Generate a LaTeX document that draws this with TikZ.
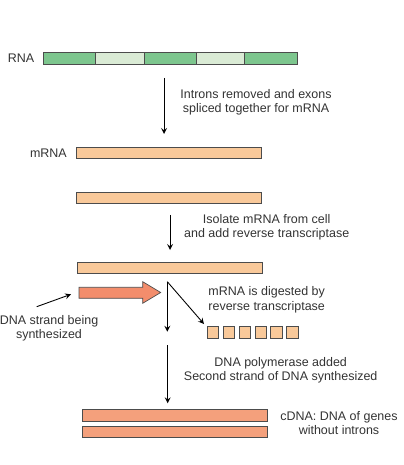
\documentclass[tikz,border=0pt]{standalone}
\usepackage{fontspec}
\setmainfont{Liberation Sans}
\definecolor{exon}{HTML}{7DC68E}
\definecolor{intron}{HTML}{DAEBD5}
\definecolor{mrna}{HTML}{F9C99A}
\definecolor{cdna}{HTML}{F4A07C}
\definecolor{newdna}{HTML}{F38D6C}
\definecolor{txt}{HTML}{333333}
\tikzset{
  bar/.style={draw=black!70, line width=0.5pt},
  conn/.style={-stealth, line width=0.5pt},
  lbl/.style={font=\fontsize{7.1}{8.2}\selectfont, text=txt, align=center}
}
\begin{document}
\begin{tikzpicture}[x=0.02cm, y=-0.02cm]
				\useasboundingbox (0,0) rectangle (404,465);
				% RNA with exons and introns
				\draw[bar, fill=exon] (43,52.7) rectangle (95.7,64.3);
				\draw[bar, fill=intron] (95.7,52.7) rectangle (144.3,64.3);
				\draw[bar, fill=exon] (144.3,52.7) rectangle (196.7,64.3);
				\draw[bar, fill=intron] (196.7,52.7) rectangle (244.3,64.3);
				\draw[bar, fill=exon] (244.3,52.7) rectangle (297,64.3);
				\node[lbl] (rna) at (21,58.5) {RNA};
				% mRNA
				\draw[bar, fill=mrna] (76.7,147.3) rectangle (261.7,158.3);
				\node[lbl, left] (mrna) at (73,153) {mRNA};
				\draw[bar, fill=mrna] (76.7,192.3) rectangle (261.7,203.7);
				\draw[bar, fill=mrna] (77.3,262.3) rectangle (262.3,273.3);
				% DNA strand and digested mRNA
				\draw[line width=0.4pt, draw=black!70, fill=newdna] (79,287.3) -- (142.7,287.3) -- (142.7,281.7) -- (160.7,292.5)
					-- (142.7,303.3) -- (142.7,298.3) -- (79,298.3) -- cycle;
				\foreach \i in {0,...,5}
					\draw[bar, fill=mrna] (207.3+15.9*\i,326.5) rectangle (218.8+15.9*\i,338.3);
				% cDNA
				\draw[bar, fill=cdna] (82.3,409.3) rectangle (267.7,421);
				\draw[bar, fill=cdna] (82.3,426) rectangle (267.7,437.3);
				% connectors
				\coordinate (A1) at (164,78);
				\coordinate (A2) at (164,134);
				\coordinate (B1) at (170,215);
				\coordinate (B2) at (170,250);
				\coordinate (S) at (167.3,281.7);
				\coordinate (S1) at (167.3,331.7);
				\coordinate (S2) at (204,324);
				\coordinate (C1) at (167.7,345);
				\coordinate (C2) at (167.7,403.3);
				\coordinate (D1) at (36.7,306.7);
				\coordinate (D2) at (71,294.3);
				\draw[conn] (A1)--(A2);
				\draw[conn] (B1)--(B2);
				\draw[conn] (S)--(S1);
				\draw[conn] (S)--(S2);
				\draw[conn] (C1)--(C2);
				\draw[conn] (D1)--(D2);
				% labels
				\node[lbl] (splice) at (256,102) {Introns removed and exons\\spliced together for mRNA};
				\node[lbl] (isolate) at (266.7,227.3) {Isolate mRNA from cell\\and add reverse transcriptase};
				\node[lbl] (digest) at (266.7,299.7) {mRNA is digested by\\reverse transcriptase};
				\node[lbl] (strand) at (49,328) {DNA strand being\\synthesized};
				\node[lbl] (poly) at (280.7,370) {DNA polymerase added\\Second strand of DNA synthesized};
				\node[lbl] (cdna) at (339,423.3) {cDNA: DNA of genes\\without introns};
			\end{tikzpicture}
\end{document}
